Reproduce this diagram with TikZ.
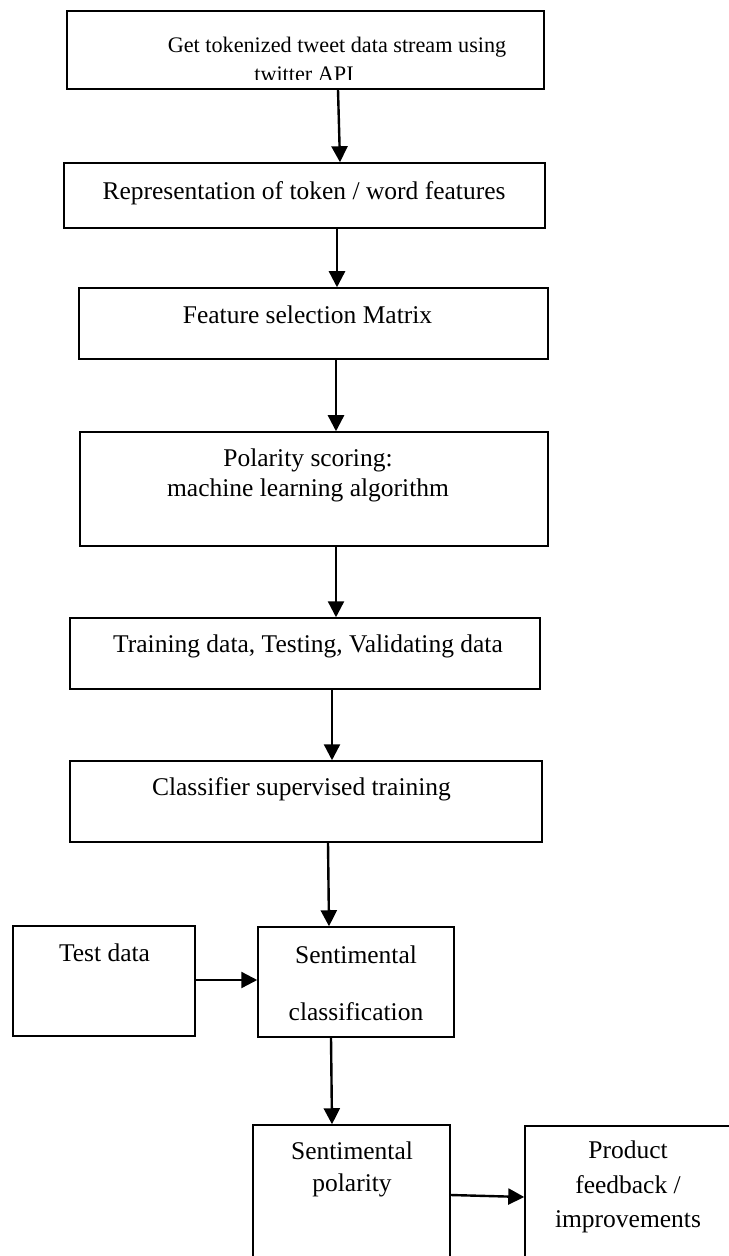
\documentclass[tikz,border=0pt]{standalone}
\usepackage{fontspec}
\setmainfont{Liberation Serif}
\usetikzlibrary{arrows.meta,fit}

\begin{document}
\begin{tikzpicture}
    [x=0.5pt,y=-0.5pt,
     box/.style={draw,line width=0.75pt,inner sep=0pt},
     txt/.style={align=center,inner sep=0pt,font=\fontsize{12.75}{15}\selectfont},
     flow/.style={-{Triangle[length=8pt,width=8pt]},line width=1.2pt}]

\useasboundingbox (0,0) rectangle (728,1256);

\node[box,fit={(67,11) (544,89)}] (get) {};
\node[box,fit={(64,163) (545,228)}] (repr) {};
\node[box,fit={(79,288) (548,359)}] (feat) {};
\node[box,fit={(80,432) (548,546)}] (pol) {};
\node[box,fit={(70,618) (540,689)}] (train) {};
\node[box,fit={(70,761) (542,842)}] (clf) {};
\node[box,fit={(13,926) (195,1036)}] (test) {};
\node[box,fit={(258,927) (454,1037)}] (cls) {};
\node[box,fit={(253,1125) (450,1300)}] (spol) {};
\node[box,fit={(525,1126) (740,1300)}] (prod) {};

\node[txt,font=\fontsize{11.1}{14}\selectfont] (tget1) at (337,47) {Get tokenized tweet data stream using};
% second line is cut by the box text area
\begin{scope}
\clip (67,11) rectangle (544,80);
\node[txt,font=\fontsize{11.1}{14}\selectfont,anchor=base] (tget2) at (304,82) {twitter API};
\end{scope}
\node[txt] (trepr) at (304,193) {Representation of token / word features};
\node[txt] (tfeat) at (307.5,315) {Feature selection Matrix};
\node[txt] (tpol) at (308,475) {Polarity scoring:\\machine learning algorithm};
\node[txt] (ttrain) at (308,646) {Training data, Testing, Validating data};
\node[txt] (tclf) at (301.5,789) {Classifier supervised training};
\node[txt] (ttest) at (104.5,953) {Test data};
\node[txt,font=\fontsize{12.75}{28.5}\selectfont] (tcls) at (356,983.5) {Sentimental\\classification};
\node[txt,font=\fontsize{12.75}{16}\selectfont] (tspol) at (352,1169) {Sentimental\\polarity};
\node[txt,font=\fontsize{12.75}{17.25}\selectfont] (tprod) at (628,1187) {Product\\feedback /\\improvements};

\draw[flow] (get.south -| 338,0) -- (repr.north -| 340,0);
\draw[flow] (repr.south -| 337,0) -- (feat.north -| 337,0);
\draw[flow] (feat.south -| 336,0) -- (pol.north -| 336,0);
\draw[flow] (pol.south -| 336,0) -- (train.north -| 336,0);
\draw[flow] (train.south -| 332,0) -- (clf.north -| 332,0);
\draw[flow] (clf.south -| 328,0) -- (cls.north -| 329,0);
\draw[flow] (test.east |- 0,980) -- (cls.west |- 0,980);
\draw[flow] (cls.south -| 331,0) -- (spol.north -| 332,0);
\draw[flow] (spol.east |- 0,1195) -- (prod.west |- 0,1197);

\end{tikzpicture}
\end{document}
